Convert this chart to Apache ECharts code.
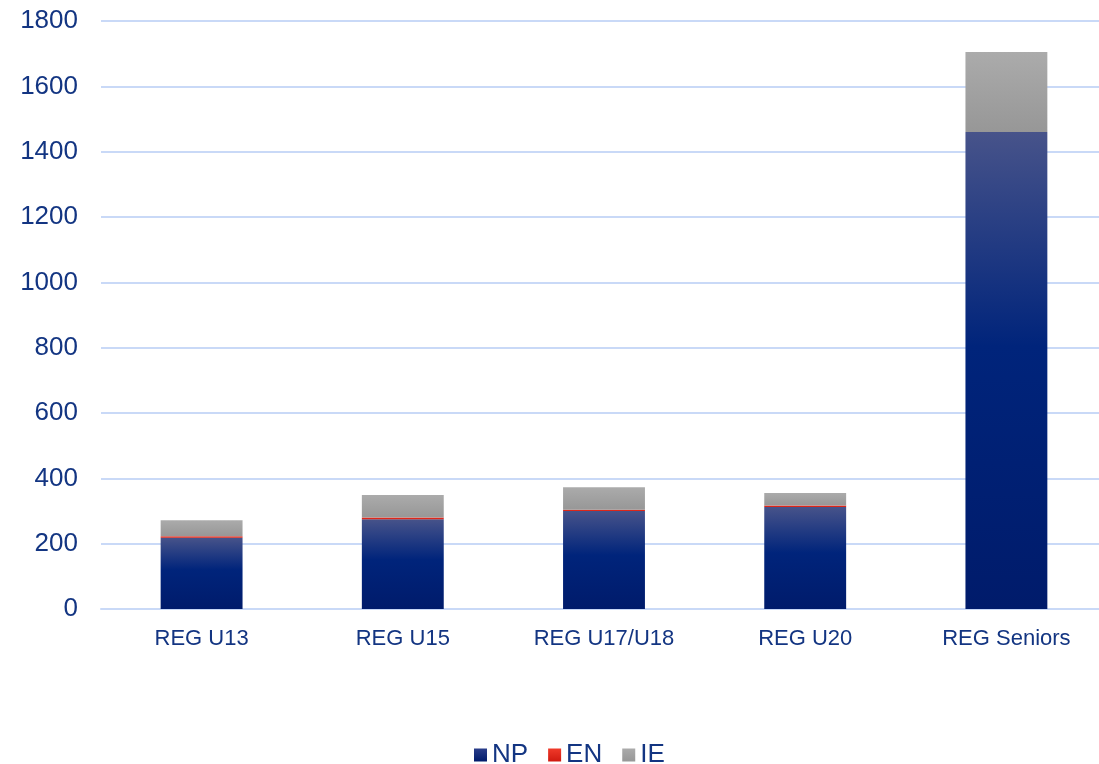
<!DOCTYPE html>
<html>
<head>
<meta charset="utf-8">
<script src="https://cdn.jsdelivr.net/npm/echarts@6/dist/echarts.min.js"></script>
<style>
html,body{margin:0;padding:0;background:#fff;overflow:hidden;}
#c{width:1108px;height:764px;}
</style>
</head>
<body>
<div id="c"></div>
<script>
const categories = ['REG U13', 'REG U15', 'REG U17/U18', 'REG U20', 'REG Seniors'];
const npValues = [218, 275, 300, 312, 1460];
const enValues = [5, 5, 4, 5, 0];
const ieValues = [49, 69, 69, 38, 245];
const yTicks = [0, 200, 400, 600, 800, 1000, 1200, 1400, 1600, 1800];

const textColor = '#133582';
const gridColor = '#c9d9f7';
const font = 'Liberation Sans, Arial, sans-serif';

const npGrad = new echarts.graphic.LinearGradient(0, 0, 0, 1, [
  {offset: 0, color: '#47538a'},
  {offset: 0.45, color: '#00247b'},
  {offset: 1, color: '#001b6b'}
]);
const ieGrad = new echarts.graphic.LinearGradient(0, 0, 0, 1, [
  {offset: 0, color: '#ababab'},
  {offset: 1, color: '#979797'}
]);
const enGrad = new echarts.graphic.LinearGradient(0, 0, 0, 1, [
  {offset: 0, color: '#f03a2a'},
  {offset: 1, color: '#d01a10'}
]);

const chart = echarts.init(document.getElementById('c'));
chart.setOption({
  animation: false,
  backgroundColor: '#ffffff',
  grid: {left: 101, right: 1, top: 21, bottom: 155, containLabel: false},
  legend: {
    top: 737,
    left: 469,
    itemWidth: 13,
    itemHeight: 13,
    itemGap: 20,
    icon: 'rect',
    textStyle: {color: textColor, fontSize: 26, fontFamily: font},
    data: [
      {name: 'NP', itemStyle: {color: new echarts.graphic.LinearGradient(0,0,0,1,[{offset:0,color:'#2a3d8a'},{offset:1,color:'#001b6b'}])}},
      {name: 'EN', itemStyle: {color: enGrad}},
      {name: 'IE', itemStyle: {color: ieGrad}}
    ]
  },
  xAxis: {
    type: 'category',
    data: categories,
    axisLine: {show: true, lineStyle: {color: gridColor, width: 2}},
    axisTick: {show: false},
    axisLabel: {color: textColor, fontSize: 22, fontFamily: font, margin: 19}
  },
  yAxis: {
    type: 'value',
    min: 0,
    max: 1800,
    interval: 200,
    axisLine: {show: false},
    axisTick: {show: false},
    splitLine: {lineStyle: {color: gridColor, width: 2}},
    axisLabel: {
      color: textColor, fontSize: 26, fontFamily: font, margin: 23,
      formatter: function (v) { return yTicks.indexOf(v) >= 0 ? String(v) : ''; }
    }
  },
  series: [
    {name: 'NP', type: 'bar', stack: 't', data: npValues, barWidth: '40.7%', itemStyle: {color: npGrad}},
    {name: 'EN', type: 'bar', stack: 't', data: enValues, barWidth: '40.7%', itemStyle: {color: enGrad}},
    {name: 'IE', type: 'bar', stack: 't', data: ieValues, barWidth: '40.7%', itemStyle: {color: ieGrad}}
  ]
});
</script>
</body>
</html>
